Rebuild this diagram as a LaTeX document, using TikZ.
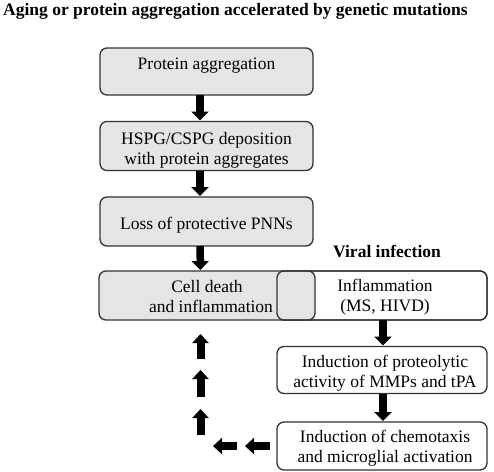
\documentclass[tikz,border=0pt]{standalone}
\usepackage{fontspec}
\setmainfont{Liberation Serif}
\usetikzlibrary{arrows.meta}
\begin{document}
\begin{tikzpicture}[x=1pt,y=-1pt,
  box/.style={draw=black!80, line width=1.3pt, rounded corners=7pt, outer sep=0pt, inner sep=0pt},
  greybox/.style={box, fill=black!10},
  whitebox/.style={box, fill=white},
  txt/.style={align=center, inner sep=0pt, anchor=base, font=\fontsize{17.5}{20}\selectfont},
  blk/.style={line width=7.5pt, -{Triangle[width=17pt,length=9pt]}, shorten >=1pt},
  hd/.style={font=\bfseries\fontsize{17.5}{20}\selectfont, inner sep=0pt, anchor=base west}
]
\useasboundingbox (0,0) rectangle (494,471);
\node[hd] (title) at (3,15) {Aging or protein aggregation accelerated by genetic mutations};
\node[greybox, minimum width=213, minimum height=47] (p1) at (206.5,71.5) {};
\node[txt] (p1t) at (206.5,69) {Protein aggregation};
\node[greybox, minimum width=213, minimum height=49] (p2) at (206.5,146) {};
\node[txt] (p2t) at (206.5,164) {HSPG/CSPG deposition\\with protein aggregates};
\node[greybox, minimum width=213, minimum height=49] (p3) at (206.5,221.5) {};
\node[txt] (p3t) at (206.5,229) {Loss of protective PNNs};
\node[whitebox, minimum width=210, minimum height=49] (infl) at (382,295.5) {};
\node[greybox, minimum width=216, minimum height=49] (cell) at (207,295.5) {};
\draw[draw=black!80, line width=1.3pt, rounded corners=7pt] (infl.south west) rectangle (infl.north east);
\node[txt] (cellt) at (207,312) {Cell death\\\hspace*{8pt}and inflammation};
\node[txt] (inflt) at (385,311.5) {Inflammation\\(MS, HIVD)};
\node[font=\bfseries\fontsize{17.5}{20}\selectfont, inner sep=0pt, anchor=base] (viral) at (387,257) {Viral infection};
\node[whitebox, minimum width=210, minimum height=47] (prot) at (382,370) {};
\node[txt] (prott) at (385,387) {Induction of proteolytic\\activity of MMPs and tPA};
\node[whitebox, minimum width=210, minimum height=48] (chem) at (382,446) {};
\node[txt] (chemt) at (385,462) {Induction of chemotaxis\\and microglial activation};

\draw[blk] ([xshift=-6.5pt]p1.south) -- ([xshift=-6.5pt]p2.north);
\draw[blk] ([xshift=-6.5pt]p2.south) -- ([xshift=-6.5pt]p3.north);
\draw[blk] ([xshift=-6.5pt]p3.south) -- ([xshift=-6.5pt]cell.north);
\draw[blk] ([xshift=1pt]infl.south) -- ([xshift=1pt]prot.north);
\draw[blk] ([xshift=1pt]prot.south) -- ([xshift=1pt]chem.north);

\coordinate (h1s) at (270,446); \coordinate (h1e) at (245,446);
\coordinate (h2s) at (237,446); \coordinate (h2e) at (213,446);
\coordinate (v1s) at (200.5,435); \coordinate (v1e) at (200.5,409);
\coordinate (v2s) at (200.5,397); \coordinate (v2e) at (200.5,370);
\coordinate (v3s) at (200.5,359); \coordinate (v3e) at (200.5,334);
\tikzset{sblk/.style={line width=8pt, -{Triangle[width=16pt,length=9pt]}}}
\draw[sblk] (h1s) -- (h1e);
\draw[sblk] (h2s) -- (h2e);
\draw[sblk] (v1s) -- (v1e);
\draw[sblk] (v2s) -- (v2e);
\draw[sblk] (v3s) -- (v3e);
\end{tikzpicture}
\end{document}
